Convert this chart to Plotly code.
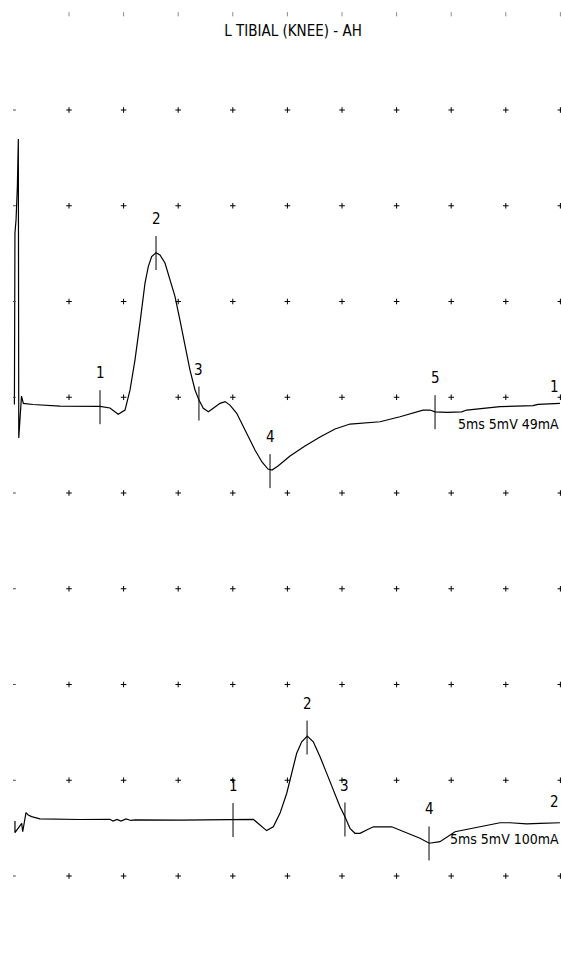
import plotly.graph_objects as go

# sweep settings: 5 ms / division, 5 mV / division, 10 x 10 divisions
MS_PER_DIV = 5
MV_PER_DIV = 5
FONT = "Liberation Sans Narrow, Arial Narrow, DejaVu Sans Condensed, Liberation Sans, sans-serif"

# trace 1 (49 mA) - latency in ms, amplitude in mV
t1_ms = [0.0, 0.05, 0.15, 0.27, 0.36, 0.40, 0.65, 0.82, 1.70, 4.18, 7.84, 8.75, 9.51,
         10.13, 10.59, 11.04, 11.50, 11.96, 12.26, 12.57, 12.97, 13.33, 13.79, 14.25,
         14.71, 15.16, 15.62, 16.08, 16.54, 16.90, 17.30, 17.76, 18.21, 18.83, 19.29,
         19.74, 20.36, 21.12, 22.03, 22.67, 23.22, 23.59, 24.14, 25.24, 26.61, 27.99,
         29.36, 30.73, 31.83, 33.48, 35.31, 36.84, 37.42, 38.06, 38.52, 39.59, 40.96,
         41.42, 42.64, 44.47, 47.49, 47.95, 49.96]
v1_mv = [0.0, 8.96, 9.64, 11.36, 13.86, -1.75, 0.44, 0.06, 0.0, -0.08, -0.10, -0.18, -0.51,
         -0.29, 0.76, 2.32, 4.26, 6.34, 7.20, 7.72, 7.93, 7.81, 7.39, 6.50,
         5.63, 4.41, 3.02, 1.80, 0.76, 0.23, -0.20, -0.38, -0.20, 0.06, 0.15,
         -0.03, -0.46, -1.33, -2.38, -3.00, -3.37, -3.42, -3.21, -2.69, -2.17, -1.70,
         -1.28, -1.02, -0.97, -0.90, -0.64, -0.38, -0.29, -0.29, -0.38, -0.41, -0.38,
         -0.29, -0.23, -0.11, -0.06, 0.01, 0.06]

# trace 2 (100 mA)
t2_ms = [0.05, 0.05, 0.67, 0.76, 1.06, 1.27, 1.58, 2.34, 6.01, 8.75, 9.03, 9.40, 9.76,
         10.22, 10.68, 11.04, 15.16, 18.83, 20.05, 21.88, 22.49, 23.10, 23.71, 24.32,
         24.94, 25.39, 25.85, 26.31, 26.82, 27.37, 27.99, 28.60, 29.20, 29.82, 30.27,
         30.73, 31.19, 31.65, 32.26, 32.87, 34.55, 35.61, 37.14, 37.99, 38.97, 40.35,
         42.02, 43.25, 44.47, 45.38, 46.91, 48.14, 49.96]
v2_mv = [-0.08, -0.69, -0.20, -0.64, 0.36, 0.23, 0.15, 0.03, 0.0, 0.01, -0.08, 0.0, -0.08,
         0.03, -0.05, -0.02, -0.03, 0.01, 0.01, 0.01, -0.29, -0.58, -0.38, 0.32,
         1.37, 2.40, 3.46, 4.06, 4.36, 4.06, 3.28, 2.41, 1.54, 0.67, 0.15,
         -0.46, -0.72, -0.72, -0.55, -0.38, -0.38, -0.64, -0.98, -1.24, -1.16, -0.64,
         -0.46, -0.34, -0.17, -0.17, -0.23, -0.20, -0.17]

# cursor markers
m1_labels = ["1", "2", "3", "4", "5"]
m1_ms = [7.84, 12.97, 16.90, 23.41, 38.52]
m1_mv = [-0.14, 7.91, 0.05, -3.48, -0.40]

m2_labels = ["1", "2", "3", "4"]
m2_ms = [20.02, 26.80, 30.27, 37.97]
m2_mv = [-0.03, 4.28, 0.0, -1.25]

title = "L TIBIAL (KNEE) - AH"
trace_ids = ["1", "2"]
settings = ["5ms 5mV 49mA", "5ms 5mV 100mA"]

W, H = 561, 969
PX_PER_MS = 54.6 / MS_PER_DIV
PX_PER_MV = 95.75 / MV_PER_DIV
X0_PX = 14.4          # left grid column
ROW0_PX = 14.25       # top grid row
BASE1_PX = 404.5      # baseline of trace 1
BASE2_PX = 819.5      # baseline of trace 2

x_range = [-X0_PX / PX_PER_MS, (W - X0_PX) / PX_PER_MS]
y1_range = [-(H - BASE1_PX) / PX_PER_MV, BASE1_PX / PX_PER_MV]
y2_range = [-(H - BASE2_PX) / PX_PER_MV, BASE2_PX / PX_PER_MV]
# grid axis in divisions (row k -> value -k)
yg_range = [-(H - ROW0_PX) / 95.75, ROW0_PX / 95.75]


def px_y(px):
    return 1 - px / H


fig = go.Figure()

# dotted grid
gx, gy, ex, ey, lx, ly = [], [], [], [], [], []
for c in range(11):
    for r in range(11):
        if r in (0, 10):
            if c > 0:
                ex.append(c * MS_PER_DIV)
                ey.append(-r)
        elif c == 0:
            lx.append(0)
            ly.append(-r)
        else:
            gx.append(c * MS_PER_DIV)
            gy.append(-r)

fig.add_trace(go.Scatter(x=gx, y=gy, yaxis="y3", mode="markers", hoverinfo="skip",
                         marker=dict(symbol="cross-thin", size=4,
                                     line=dict(color="black", width=1))))
fig.add_trace(go.Scatter(x=lx, y=ly, yaxis="y3", mode="markers", hoverinfo="skip",
                         marker=dict(symbol="line-ew", size=2,
                                     line=dict(color="#444", width=1))))
fig.add_trace(go.Scatter(x=ex, y=ey, yaxis="y3", mode="markers", hoverinfo="skip",
                         cliponaxis=False,
                         marker=dict(symbol="line-ns", size=3,
                                     line=dict(color="#888", width=1))))

# waveforms
fig.add_trace(go.Scatter(x=t1_ms, y=v1_mv, yaxis="y", mode="lines",
                         line=dict(color="black", width=1.2)))
fig.add_trace(go.Scatter(x=t2_ms, y=v2_mv, yaxis="y2", mode="lines",
                         line=dict(color="black", width=1.2)))

# cursor ticks
half = 17 / PX_PER_MV


def ticks(ts, vs):
    xs, ys = [], []
    for t, v in zip(ts, vs):
        xs += [t, t, None]
        ys += [v - half, v + half, None]
    return xs, ys


for ts, vs, ax in [(m1_ms, m1_mv, "y"), (m2_ms, m2_mv, "y2")]:
    xs, ys = ticks(ts, vs)
    fig.add_trace(go.Scatter(x=xs, y=ys, yaxis=ax, mode="lines", hoverinfo="skip",
                             line=dict(color="black", width=1)))

for labels, ts, vs, ax in [(m1_labels, m1_ms, m1_mv, "y"), (m2_labels, m2_ms, m2_mv, "y2")]:
    for lab, t, v in zip(labels, ts, vs):
        fig.add_annotation(x=t, y=v, yref=ax, text=lab, showarrow=False,
                           yshift=34, font=dict(size=15, color="black", family=FONT))

# trace numbers and settings, right edge
for tid, s, base in zip(trace_ids, settings, [BASE1_PX, BASE2_PX]):
    fig.add_annotation(x=1, xref="paper", y=px_y(base - 18), yref="paper",
                       text=tid, showarrow=False, xanchor="right", yanchor="middle",
                       font=dict(size=15, color="black", family=FONT))
    fig.add_annotation(x=1, xref="paper", y=px_y(base + 19), yref="paper",
                       text=s, showarrow=False, xanchor="right", yanchor="middle",
                       font=dict(size=14, color="black", family=FONT))

fig.update_layout(
    width=W, height=H, autosize=False,
    margin=dict(l=0, r=0, t=0, b=0),
    paper_bgcolor="white", plot_bgcolor="white",
    showlegend=False,
    title=dict(text=title, x=293 / W, xanchor="center", y=px_y(31), yanchor="middle",
               font=dict(size=15, color="black", family=FONT)),
    xaxis=dict(range=x_range, visible=False, fixedrange=True),
    yaxis=dict(range=y1_range, visible=False),
    yaxis2=dict(range=y2_range, visible=False, overlaying="y"),
    yaxis3=dict(range=yg_range, visible=False, overlaying="y"),
)

# drop the default page margin so the figure fills the 561 x 969 window
fig.write_html("out.html", config={"displayModeBar": False},
               post_script="document.body.style.margin='0';document.body.style.overflow='hidden';")
